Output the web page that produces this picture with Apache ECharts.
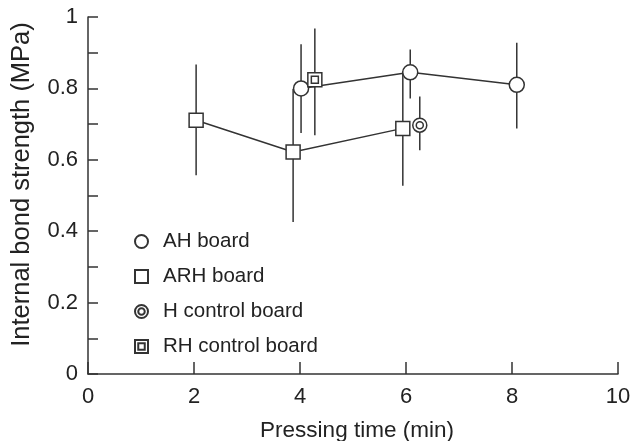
<!DOCTYPE html>
<html>
<head>
<meta charset="utf-8">
<script src="https://cdn.jsdelivr.net/npm/echarts@6/dist/echarts.min.js"></script>
<style>
  html, body { margin: 0; padding: 0; background: #fff; }
  #chart { width: 632px; height: 441px; }
</style>
</head>
<body>
<div id="chart"></div>
<script>
// AH board
const ahTime = [4.02, 6.08, 8.09]
const ahIB = [0.800, 0.845, 0.810]
const ahLow = [0.675, 0.772, 0.688]
const ahHigh = [0.924, 0.909, 0.928]
// ARH board
const arhTime = [2.04, 3.87, 5.94]
const arhIB = [0.711, 0.622, 0.688]
const arhLow = [0.557, 0.426, 0.527]
const arhHigh = [0.867, 0.798, 0.848]
// H control board
const hTime = [6.26]
const hIB = [0.697]
const hLow = [0.627]
const hHigh = [0.777]
// RH control board
const rhTime = [4.28]
const rhIB = [0.824]
const rhLow = [0.669]
const rhHigh = [0.968]

const xTicks = [0, 2, 4, 6, 8, 10]
const yTicks = [0, 0.2, 0.4, 0.6, 0.8, 1]

const ink = '#333'
const font = 'Liberation Sans, Arial, sans-serif'

// double circle / double square markers (outer + inner outline)
const dblCircle = 'path://M0,7A7,7,0,1,1,14,7A7,7,0,1,1,0,7ZM3.5,7A3.5,3.5,0,1,1,10.5,7A3.5,3.5,0,1,1,3.5,7Z'
const dblSquare = 'path://M0,0L14,0L14,14L0,14ZM3.5,3.5L10.5,3.5L10.5,10.5L3.5,10.5Z'

const pts = (xs, ys) => xs.map((x, i) => [x, ys[i]])
const bars = (xs, lo, hi) => xs.map((x, i) => [x, lo[i], hi[i]])

const errSeries = (name, data) => ({
  name: name,
  type: 'custom',
  z: 1,
  silent: true,
  data: data,
  renderItem: (params, api) => {
    const a = api.coord([api.value(0), api.value(1)])
    const b = api.coord([api.value(0), api.value(2)])
    return {
      type: 'line',
      shape: { x1: a[0], y1: a[1], x2: b[0], y2: b[1] },
      style: { stroke: ink, lineWidth: 1.5 }
    }
  }
})

const markStyle = { color: '#fff', borderColor: ink, borderWidth: 1.5, opacity: 1 }

const chart = echarts.init(document.getElementById('chart'))
const option = {
  animation: false,
  textStyle: { fontFamily: font },
  grid: { left: 88, right: 14, top: 17, bottom: 67, outerBoundsMode: 'none' },
  legend: {
    orient: 'vertical',
    left: 129,
    top: 226,
    itemWidth: 13,
    itemHeight: 13,
    itemGap: 14,
    textStyle: { fontSize: 20.5, color: '#222', padding: [0, 0, 0, 10] },
    data: [
      { name: 'AH board', icon: 'circle' },
      { name: 'ARH board', icon: 'rect' },
      { name: 'H control board', icon: dblCircle },
      { name: 'RH control board', icon: dblSquare }
    ]
  },
  xAxis: {
    type: 'value',
    min: xTicks[0],
    max: xTicks[xTicks.length - 1],
    interval: 2,
    name: 'Pressing time (min)',
    nameLocation: 'middle',
    nameGap: 45,
    nameMoveOverlap: false,
    nameTextStyle: { fontSize: 22.5, color: '#222', padding: [0, 0, 0, 8] },
    axisLine: { lineStyle: { color: ink, width: 1.5 } },
    axisTick: { inside: true, length: 12, lineStyle: { color: ink, width: 1.5 } },
    axisLabel: { fontSize: 22, color: '#222', margin: 12 },
    splitLine: { show: false }
  },
  yAxis: {
    type: 'value',
    min: 0,
    max: 1,
    interval: 0.1,
    name: 'Internal bond strength (MPa)',
    nameLocation: 'middle',
    nameGap: 53,
    nameMoveOverlap: false,
    nameTextStyle: { fontSize: 25.5, color: '#222', padding: [0, 0, 0, 22] },
    axisLine: { show: true, lineStyle: { color: ink, width: 1.5 } },
    axisTick: { show: true, inside: true, length: 10, lineStyle: { color: ink, width: 1.5 } },
    axisLabel: {
      fontSize: 22,
      color: '#222',
      margin: 10,
      formatter: v => {
        const t = yTicks.find(y => Math.abs(y - v) < 1e-6)
        return t === undefined ? '' : String(t)
      }
    },
    splitLine: { show: false }
  },
  series: [
    errSeries('AH err', bars(ahTime, ahLow, ahHigh)),
    errSeries('ARH err', bars(arhTime, arhLow, arhHigh)),
    errSeries('H err', bars(hTime, hLow, hHigh)),
    errSeries('RH err', bars(rhTime, rhLow, rhHigh)),
    {
      name: 'ARH board',
      type: 'line',
      z: 3,
      data: pts(arhTime, arhIB),
      symbol: 'rect',
      symbolSize: 14,
      lineStyle: { color: ink, width: 1.5 },
      itemStyle: markStyle
    },
    {
      name: 'AH board',
      type: 'line',
      z: 3,
      data: pts(ahTime, ahIB),
      symbol: 'circle',
      symbolSize: 15,
      lineStyle: { color: ink, width: 1.5 },
      itemStyle: markStyle
    },
    {
      name: 'H control board',
      type: 'scatter',
      z: 4,
      data: pts(hTime, hIB),
      symbol: dblCircle,
      symbolSize: 14,
      itemStyle: markStyle
    },
    {
      name: 'RH control board',
      type: 'scatter',
      z: 4,
      data: pts(rhTime, rhIB),
      symbol: dblSquare,
      symbolSize: 14,
      itemStyle: markStyle
    }
  ]
}
chart.setOption(option)
window.addEventListener('resize', () => chart.resize())
</script>
</body>
</html>
